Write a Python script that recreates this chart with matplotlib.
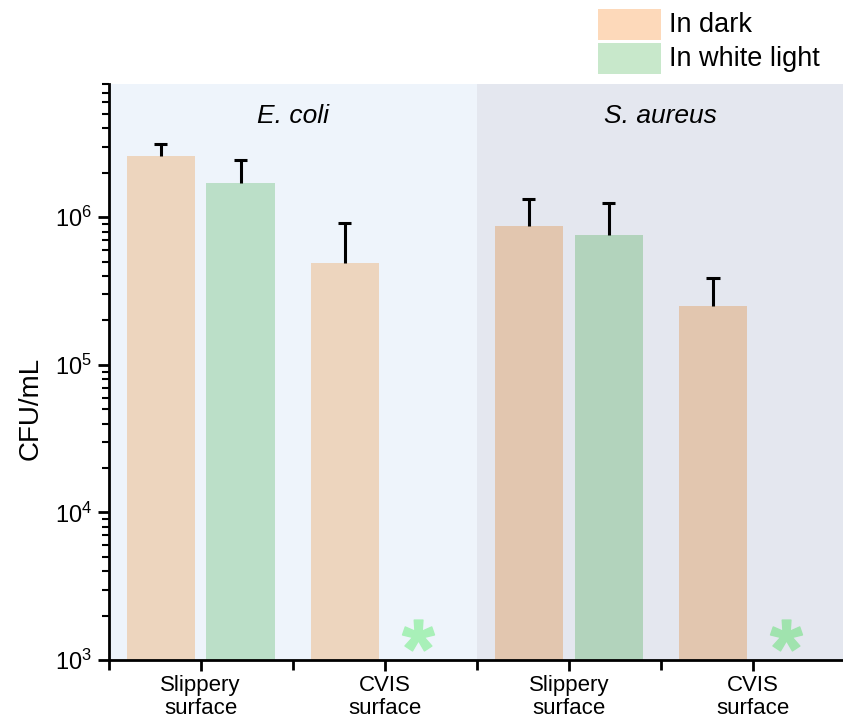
import numpy as np
import matplotlib
matplotlib.use("Agg")
import matplotlib.pyplot as plt
from matplotlib.patches import Rectangle
from matplotlib.ticker import LogLocator, FixedLocator, NullFormatter

plt.rcParams['font.family'] = ['Liberation Sans', 'DejaVu Sans']
plt.rcParams['mathtext.fontset'] = 'custom'
plt.rcParams['mathtext.rm'] = 'Liberation Sans'
plt.rcParams['mathtext.it'] = 'Liberation Sans:italic'
plt.rcParams['mathtext.bf'] = 'Liberation Sans:bold'

categories = ["Slippery\nsurface", "CVIS\nsurface", "Slippery\nsurface", "CVIS\nsurface"]
groups = ["E. coli", "S. aureus"]
series = ["In dark", "In white light"]
dark_vals = [2.6e6, 4.93e5, 8.7e5, 2.5e5]
dark_err = [0.52e6, 4.2e5, 4.5e5, 1.35e5]
light_vals = [1.72e6, np.nan, 7.55e5, np.nan]
light_err = [0.72e6, np.nan, 4.9e5, np.nan]

dark_colors = ["#EDD5BE", "#EDD5BE", "#E2C6AF", "#E2C6AF"]
light_colors = ["#BBDFC8", "#BBDFC8", "#B2D3BC", "#B2D3BC"]
legend_colors = ["#FDD9BA", "#C8E8CB"]
bg_colors = ["#EEF4FB", "#E4E7EF"]
star_colors = ["#A8F0B8", "#A8F0B8", "#A0E3AE", "#A0E3AE"]

fig = plt.figure(figsize=(8.43, 7.22), dpi=100)
ax = fig.add_axes([108.5/843, 1-660/722, (845-108.5)/843, (660-84)/722])

x = np.arange(len(categories))
w = 0.37
off = 0.217
capw = 0.036

ax.axvspan(-0.5, 1.5, color=bg_colors[0], zorder=0, lw=0)
ax.axvspan(1.5, 3.5, color=bg_colors[1], zorder=0, lw=0)


def upper_err(xs, vals, errs):
    tops = np.asarray(vals) + np.asarray(errs)
    ax.vlines(xs, vals, tops, colors='black', lw=2.2, zorder=3)
    ax.hlines(tops, xs - capw, xs + capw, colors='black', lw=2.2, zorder=3)


ax.bar(x - off, dark_vals, width=w, color=dark_colors, zorder=2)
upper_err(x - off, dark_vals, dark_err)

lv = np.array(light_vals)
le = np.array(light_err)
ok = ~np.isnan(lv)
ax.bar(x[ok] + off, lv[ok], width=w, color=np.array(light_colors)[ok], zorder=2)
upper_err(x[ok] + off, lv[ok], le[ok])
for xi in x[~ok]:
    ax.plot([xi + 0.18], [1.48e3], marker=r'$\mathbf{*}$', ms=23, color=star_colors[xi],
            linestyle='none', zorder=4)

ax.set_yscale('log')
ax.set_ylim(1e3, 8e6)
ax.set_xlim(-0.5, 3.5)

ax.set_xticks(x)
ax.set_xticklabels(categories, fontsize=16, linespacing=1.12)
ax.xaxis.set_minor_locator(FixedLocator([-0.5, 0.5, 1.5, 2.5]))
ax.tick_params(axis='x', which='major', length=8, width=2, pad=3)
ax.tick_params(axis='x', which='minor', length=7, width=2)
ax.yaxis.set_major_locator(LogLocator(base=10, numticks=10))
ax.yaxis.set_minor_locator(LogLocator(base=10, subs=np.arange(2, 10), numticks=20))
ax.yaxis.set_minor_formatter(NullFormatter())
ax.tick_params(axis='y', which='major', length=8, width=2, labelsize=17, pad=4)
ax.tick_params(axis='y', which='minor', length=5, width=1.5)

for s in ['top', 'right']:
    ax.spines[s].set_visible(False)
for s in ['left', 'bottom']:
    ax.spines[s].set_linewidth(2)

ax.set_ylabel("CFU/mL", fontsize=20)
ax.yaxis.set_label_coords((44 - 108.5) / 736.5, (660 - 408) / 576)

for gx, name in zip([0.5, 2.5], groups):
    ax.text(gx, (660 - 116) / 576, name, transform=ax.get_xaxis_transform(), fontsize=19,
            style='italic', ha='center', va='center')

# legend
for i, (lab, c) in enumerate(zip(series, legend_colors)):
    y0 = 9 + i * 34
    fig.add_artist(Rectangle((598/843, 1-(y0+31)/722), 63/843, 31/722,
                             transform=fig.transFigure, color=c, lw=0))
    fig.text(669/843, 1-(y0+15.5)/722, lab, fontsize=19.5, va='center', ha='left')

fig.savefig("out.png", dpi=100)
